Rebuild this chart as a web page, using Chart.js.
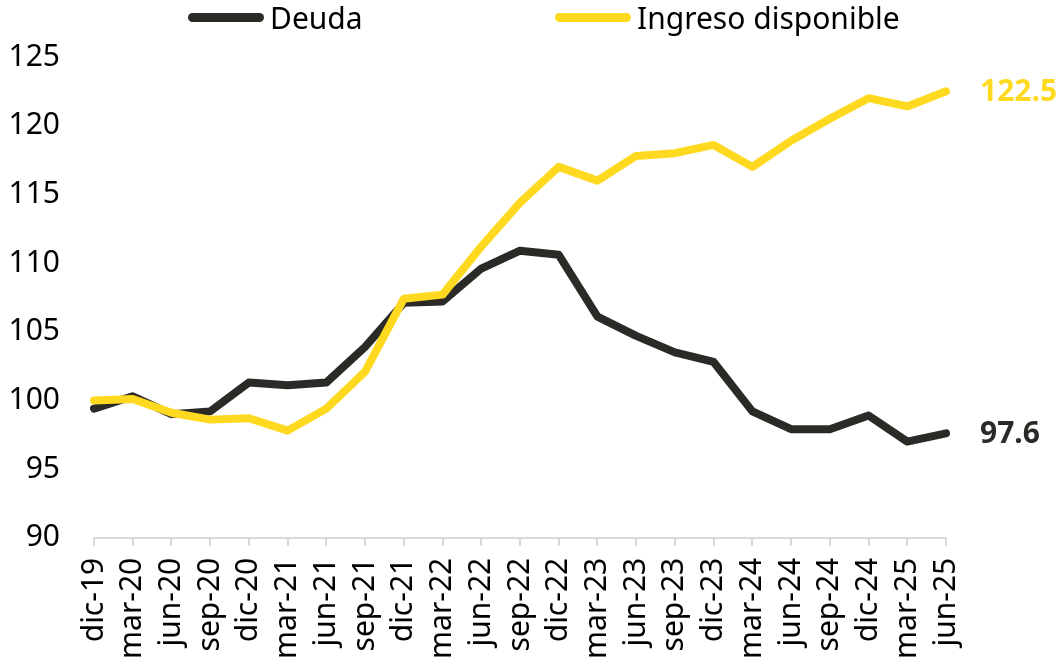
<!DOCTYPE html>
<html>
<head>
<meta charset="utf-8">
<script src="https://cdn.jsdelivr.net/npm/chart.js@4"></script>
<style>
  html, body { margin: 0; padding: 0; background: #fff; }
  #wrap { position: relative; width: 1061px; height: 671px; font-family: "Noto Sans", sans-serif; }
  .leg { position: absolute; top: 0; height: 34px; display: flex; align-items: center; font-size: 30px; color: #000; }
  .leg span.sw { display: inline-block; width: 76px; height: 9px; border-radius: 5px; margin-right: 6px; }
</style>
</head>
<body>
<div id="wrap">
  <canvas id="chart" width="1061" height="671"></canvas>
  <div class="leg" style="left:188px"><span class="sw" style="background:#2B2A27"></span>Deuda</div>
  <div class="leg" style="left:555px"><span class="sw" style="background:#FFD920"></span>Ingreso disponible</div>
</div>
<script>
// Data
const quarters = ['dic-19', 'mar-20', 'jun-20', 'sep-20', 'dic-20', 'mar-21', 'jun-21', 'sep-21',
  'dic-21', 'mar-22', 'jun-22', 'sep-22', 'dic-22', 'mar-23', 'jun-23', 'sep-23', 'dic-23',
  'mar-24', 'jun-24', 'sep-24', 'dic-24', 'mar-25', 'jun-25'];

const deuda = [99.4, 100.3, 99.0, 99.2, 101.3, 101.1, 101.3, 103.9, 107.1, 107.2, 109.6, 110.9,
  110.6, 106.1, 104.7, 103.5, 102.8, 99.2, 97.9, 97.9, 98.9, 97.0, 97.6];

const ingreso = [100.0, 100.1, 99.1, 98.6, 98.7, 97.8, 99.4, 102.1, 107.4, 107.7, 111.2, 114.4,
  117.0, 116.0, 117.8, 118.0, 118.6, 117.0, 118.9, 120.5, 122.0, 121.4, 122.5];

const yTicks = [90, 95, 100, 105, 110, 115, 120, 125];

const BLACK = '#2B2A27';
const YELLOW = '#FFD920';

// Label at the end of each line
const endLabels = {
  id: 'endLabels',
  afterDatasetsDraw(chart) {
    const ctx = chart.ctx;
    ctx.save();
    ctx.font = 'bold 30px "Noto Sans", sans-serif';
    ctx.textBaseline = 'middle';
    ctx.textAlign = 'left';
    chart.data.datasets.forEach((ds, i) => {
      const meta = chart.getDatasetMeta(i);
      const last = meta.data[meta.data.length - 1];
      const v = ds.data[ds.data.length - 1];
      ctx.fillStyle = ds.borderColor;
      ctx.fillText(v.toFixed(1), last.x + 34, last.y + 1);
    });
    ctx.restore();
  }
};

new Chart(document.getElementById('chart'), {
  type: 'line',
  data: {
    labels: quarters,
    datasets: [{
      label: 'Deuda',
      data: deuda,
      borderColor: BLACK,
      borderWidth: 8,
      order: 2
    }, {
      label: 'Ingreso disponible',
      data: ingreso,
      borderColor: YELLOW,
      borderWidth: 8,
      order: 1
    }]
  },
  plugins: [endLabels],
  options: {
    responsive: false,
    animation: false,
    layout: { padding: { left: 0, right: 115, top: 57, bottom: 0 } },
    elements: {
      point: { radius: 0 },
      line: { tension: 0, borderCapStyle: 'round', borderJoinStyle: 'round' }
    },
    plugins: {
      legend: { display: false },
      tooltip: { enabled: false }
    },
    scales: {
      x: {
        offset: false,
        afterFit: axis => { axis.paddingLeft = 0; axis.paddingRight = 0; },
        grid: { display: true, drawOnChartArea: false, drawTicks: true, tickLength: 8, color: '#D9D9D9', lineWidth: 2 },
        border: { display: true, color: '#D9D9D9', width: 2 },
        ticks: {
          color: '#000',
          font: { family: 'Noto Sans', size: 30 },
          maxRotation: 90,
          minRotation: 90,
          autoSkip: false,
          padding: 12
        }
      },
      y: {
        min: yTicks[0],
        max: yTicks[yTicks.length - 1],
        afterBuildTicks: axis => { axis.ticks = yTicks.map(v => ({ value: v })); },
        afterFit: axis => { axis.width = 94; },
        grid: { display: false, drawTicks: false },
        border: { display: false },
        ticks: {
          color: '#000',
          font: { family: 'Noto Sans', size: 30 },
          padding: 34
        }
      }
    }
  }
});
</script>
</body>
</html>
